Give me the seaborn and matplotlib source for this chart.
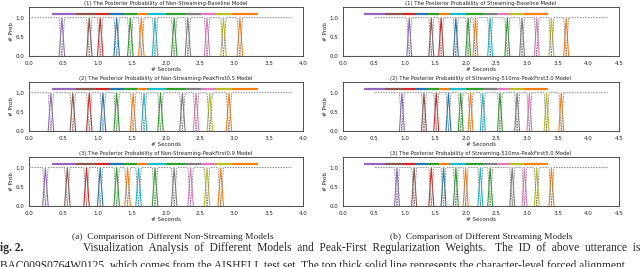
import numpy as np
import pandas as pd
import seaborn as sns
import matplotlib.pyplot as plt

sns.set_style("white")
plt.rcParams['font.family'] = 'DejaVu Sans'
plt.rcParams['axes.linewidth'] = 0.6
plt.rcParams['xtick.major.size'] = 2
plt.rcParams['ytick.major.size'] = 2
plt.rcParams['xtick.major.width'] = 0.5
plt.rcParams['ytick.major.width'] = 0.5
plt.rcParams['xtick.major.pad'] = 1.5
plt.rcParams['ytick.major.pad'] = 1.5

# forced alignment (top thick line), seconds
align_bounds = [0.34, 0.69, 0.98, 1.17, 1.39, 1.57, 1.73, 2.00, 2.28, 2.51, 2.73, 2.96, 3.34]
token_colors = ['tab:purple', 'tab:brown', 'tab:red', 'tab:blue', 'tab:green', 'tab:orange',
                'tab:cyan', 'tab:green', 'tab:gray', 'tab:pink', 'tab:olive', 'tab:orange']
frame_shift = 0.04

# spike (peak) times per model, seconds
peaks_ns_base = [0.49, 0.86, 1.02, 1.30, 1.47, 1.63, 1.83, 2.11, 2.34, 2.59, 2.83, 3.07]
peaks_ns_pf05 = [0.33, 0.62, 0.90, 1.09, 1.30, 1.51, 1.67, 1.91, 2.23, 2.44, 2.66, 2.92]
peaks_ns_pf09 = [0.24, 0.54, 0.83, 1.06, 1.27, 1.46, 1.59, 1.82, 2.11, 2.35, 2.59, 2.82]
peaks_s_base = [1.08, 1.43, 1.61, 1.85, 2.04, 2.17, 2.41, 2.69, 2.91, 3.16, 3.40, 3.65]
peaks_s_pf30 = [0.95, 1.33, 1.52, 1.71, 1.93, 2.08, 2.29, 2.57, 2.84, 3.05, 3.32, 3.55]
peaks_s_pf50 = [0.89, 1.16, 1.46, 1.65, 1.84, 2.02, 2.23, 2.41, 2.77, 2.96, 3.16, 3.40]

titles_ns = ["(1) The Posterior Probability of Non-Streaming-Baseline Model",
             "(2) The Posterior Probability of Non-Streaming-PeakFirst0.5 Model",
             "(3) The Posterior Probability of Non-Streaming-PeakFirst0.9 Model"]
titles_s = ["(1) The Posterior Probability of Streaming-Baseline Model",
            "(2) The Posterior Probability of Streaming-510ms-PeakFirst3.0 Model",
            "(3) The Posterior Probability of Streaming-510ms-PeakFirst5.0 Model"]

fs = 3.8


def draw(ax, peaks, blank_start, t_end, xmax, title):
    t = np.round(np.arange(0, t_end + 1e-6, frame_shift), 2)
    idx = np.round(np.array(peaks) / frame_shift).astype(int)
    # other tokens stay at zero
    ax.plot(t, np.zeros(len(t)), color='#555555', lw=0.8, zorder=1)
    rows = []
    for k, i in enumerate(idx):
        for j in (i - 1, i, i + 1):
            rows.append((k, t[j], 1.0 if j == i else 0.0))
    df = pd.DataFrame(rows, columns=['tok', 'sec', 'prob'])
    sns.lineplot(data=df, x='sec', y='prob', hue='tok', palette=token_colors,
                 estimator=None, lw=0.8, legend=False, ax=ax, zorder=2)
    blank = np.ones(len(t))
    blank[idx] = 0
    keep = t >= blank_start - 1e-6
    ax.plot(t[keep], blank[keep], color='#808080', ls=(0, (2, 1.2)), lw=0.6, zorder=3)
    nseg = len(align_bounds) - 1
    ax.hlines(np.full(nseg, 1.1), align_bounds[:-1], align_bounds[1:],
              colors=token_colors, lw=1.6, zorder=4)
    ax.set_xlim(0, xmax)
    ax.set_ylim(0, 1.28)
    ax.set_xticks(np.arange(0, xmax + 0.01, 0.5))
    ax.set_yticks([0, 0.5, 1.0])
    ax.tick_params(labelsize=fs + 0.3, colors='#222222')
    ax.set_xlabel("# Seconds", fontsize=fs + 0.3, labelpad=1)
    ax.set_ylabel("# Prob", fontsize=fs + 0.3, labelpad=1)
    ax.set_title(title, fontsize=fs, pad=1.5)
    for s in ax.spines.values():
        s.set_color('#333333')


fig = plt.figure(figsize=(6.4, 2.67), dpi=100)
bottoms = [0.790, 0.509, 0.2285]
h = 0.184
ns_peaks = [peaks_ns_base, peaks_ns_pf05, peaks_ns_pf09]
s_peaks = [peaks_s_base, peaks_s_pf30, peaks_s_pf50]
for r in range(3):
    axl = fig.add_axes([0.0453, bottoms[r], 0.428, h])
    draw(axl, ns_peaks[r], 0.0, 3.84, 4.0, titles_ns[r])
    axr = fig.add_axes([0.536, bottoms[r], 0.431, h])
    draw(axr, s_peaks[r], 0.52, 4.32, 4.5, titles_s[r])

serif = 'Liberation Serif'
fig.text(0.27, 0.112, "(a)  Comparison of Different Non-Streaming Models", family=serif,
         fontsize=6.8, ha='center', va='center')
fig.text(0.752, 0.112, "(b)  Comparison of Different Streaming Models", family=serif,
         fontsize=6.8, ha='center', va='center')
fig.text(0.0, 0.071, "ig. 2.", family=serif, fontsize=8.3, fontweight='bold', ha='left', va='center')
fig.text(0.13, 0.071, "Visualization  Analysis  of  Different  Models  and  Peak-First  Regularization  Weights.",
         family=serif, fontsize=8.3, ha='left', va='center')
fig.text(1.0, 0.071, "The  ID  of  above  utterance  is", family=serif, fontsize=8.3,
         ha='right', va='center')
fig.text(0.0, 0.003, "BAC009S0764W0125, which comes from the AISHELL test set. The top thick solid line represents the character-level forced alignment",
         family=serif, fontsize=8.3, ha='left', va='center')

fig.savefig("out.png", dpi=100)
